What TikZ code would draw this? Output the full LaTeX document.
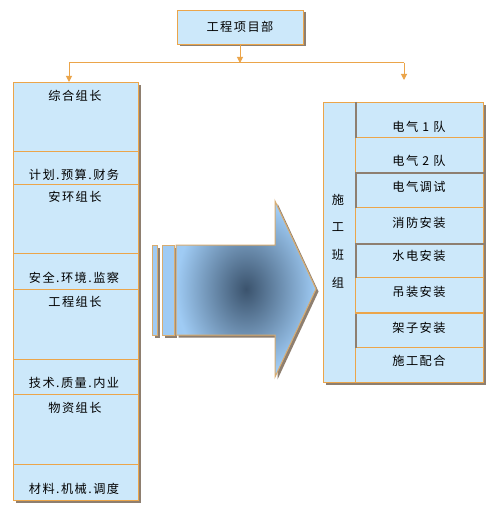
\documentclass[tikz,border=0pt]{standalone}
\usepackage{fontspec}
\setmainfont{Noto Sans CJK SC}[LetterSpace=12]
\usetikzlibrary{shadows,arrows.meta}
\definecolor{boxblue}{HTML}{CCE8FA}
\definecolor{boxorange}{HTML}{EBA54A}
\definecolor{shadowgrey}{HTML}{8E7F70}
\definecolor{arrowdark}{HTML}{3B536D}
\definecolor{arrowlight}{HTML}{9FCBF4}
\definecolor{arrowedge}{HTML}{D8AC70}
\begin{document}
\begin{tikzpicture}[x=1pt,y=-1pt,
 cell/.style={draw=boxorange, fill=boxblue, line width=0.8pt, inner sep=0pt, anchor=north west},
 lbl/.style={font=\fontsize{12.2}{14}\selectfont, inner sep=0pt, text=black},
 shad/.style={drop shadow={shadow xshift=2.5pt, shadow yshift=-2.5pt, fill=shadowgrey, opacity=1}},
 conn/.style={draw=boxorange, line width=1pt},
 tip/.style={-{Triangle[width=6pt,length=6pt]}},
 greyline/.style={draw=shadowgrey, line width=1.6pt}]
\fill[white] (0,0) rectangle (493,513);
\useasboundingbox (0,0) rectangle (493,513);
% top box
\node[cell, shad, anchor=center, minimum width=126pt, minimum height=34pt] (top) at (240,27) {};
\node[lbl] (toptxt) at (top.center) {工程项目部};
% connectors
\coordinate (j) at (240,63);
\coordinate (jl) at (69,63);
\coordinate (jr) at (404,63);
\coordinate (ra) at (404,80);
\draw[conn] (jl) -- (jr);
\draw[conn, tip, draw=boxorange, fill=boxorange] (top.south) -- (j);
% left column
\node[cell, shad, minimum width=125pt, minimum height=418pt] (lcol) at (13,82) {};
\draw[conn, tip, fill=boxorange] (jl) -- (jl |- lcol.north);
\draw[conn, tip, fill=boxorange] (jr) -- (ra);
\node[cell, minimum width=125pt, minimum height=69pt] (g1a) at (13,82) {};
\node[cell, minimum width=125pt, minimum height=33pt] (g1b) at (13,151) {};
\node[cell, minimum width=125pt, minimum height=69pt] (g2a) at (13,184) {};
\node[cell, minimum width=125pt, minimum height=36pt] (g2b) at (13,253) {};
\node[cell, minimum width=125pt, minimum height=70pt] (g3a) at (13,289) {};
\node[cell, minimum width=125pt, minimum height=35pt] (g3b) at (13,359) {};
\node[cell, minimum width=125pt, minimum height=70pt] (g4a) at (13,394) {};
\node[cell, minimum width=125pt, minimum height=36pt] (g4b) at (13,464) {};
\node[lbl] (t1a) at (75,96) {综合组长};
\node[lbl] (t1b) at (74,175) {计划.预算.财务};
\node[lbl] (t2a) at (75,197) {安环组长};
\node[lbl] (t2b) at (74,278) {安全.环境.监察};
\node[lbl] (t3a) at (75,302) {工程组长};
\node[lbl] (t3b) at (74,383) {技术.质量.内业};
\node[lbl] (t4a) at (75,408) {物资组长};
\node[lbl] (t4b) at (74,489) {材料.机械.调度};
% big arrow
\node[draw=arrowedge, fill=arrowlight, line width=0.9pt, inner sep=0pt, anchor=north west, minimum width=5pt, minimum height=90pt, shad] (bar1) at (152,245) {};
\node[draw=arrowedge, fill=arrowlight, line width=0.9pt, inner sep=0pt, anchor=north west, minimum width=12pt, minimum height=90pt, shad] (bar2) at (162,245) {};
\path[draw=arrowedge, line width=1pt, shading=radial, inner color=arrowdark, outer color=arrowlight, shad]
  (176,245) -- (275,245) -- (275,201) -- (316,289) -- (275,377) -- (275,335) -- (176,335) -- cycle;
% right block
\node[cell, shad, minimum width=160pt, minimum height=280pt] (rcol) at (323,102) {};
\node[cell, minimum width=32pt, minimum height=280pt] (strip) at (323,102) {};
\node[lbl] (s1) at (338,200) {施};
\node[lbl] (s2) at (338,227) {工};
\node[lbl] (s3) at (338,255) {班};
\node[lbl] (s4) at (338,283) {组};
\node[cell, minimum width=128pt, minimum height=35pt] (r1) at (355,102) {};
\node[cell, minimum width=128pt, minimum height=36pt] (r2) at (355,137) {};
\node[cell, minimum width=128pt, minimum height=34pt] (r3) at (355,173) {};
\node[cell, minimum width=128pt, minimum height=37pt] (r4) at (355,207) {};
\node[cell, minimum width=128pt, minimum height=33pt] (r5) at (355,244) {};
\node[cell, minimum width=128pt, minimum height=36pt] (r6) at (355,277) {};
\node[cell, minimum width=128pt, minimum height=34pt] (r7) at (355,313) {};
\node[cell, minimum width=128pt, minimum height=35pt] (r8) at (355,347) {};
\draw[greyline] ([xshift=1pt]r1.north west) -- ([xshift=1pt]r1.south west);
\draw[greyline] ([xshift=1pt]r3.north west) -- ([xshift=1pt]r3.south west);
\draw[greyline] ([xshift=1pt]r5.north west) -- ([xshift=1pt]r5.south west);
\draw[greyline] ([xshift=1pt]r7.north west) -- ([xshift=1pt]r7.south west);
\draw[greyline] (r3.north west) -- (r3.north east);
\draw[greyline] (r5.north west) -- (r5.north east);
\draw[boxorange, line width=1.4pt] (r7.north west) -- (r7.north east);
\node[lbl] (q1) at (419,127) {电气 1 队};
\node[lbl] (q2) at (419,161) {电气 2 队};
\node[lbl] (q3) at (419,187) {电气调试};
\node[lbl] (q4) at (419,223) {消防安装};
\node[lbl] (q5) at (419,256) {水电安装};
\node[lbl] (q6) at (419,292) {吊装安装};
\node[lbl] (q7) at (419,328) {架子安装};
\node[lbl] (q8) at (419,361) {施工配合};
\end{tikzpicture}
\end{document}
